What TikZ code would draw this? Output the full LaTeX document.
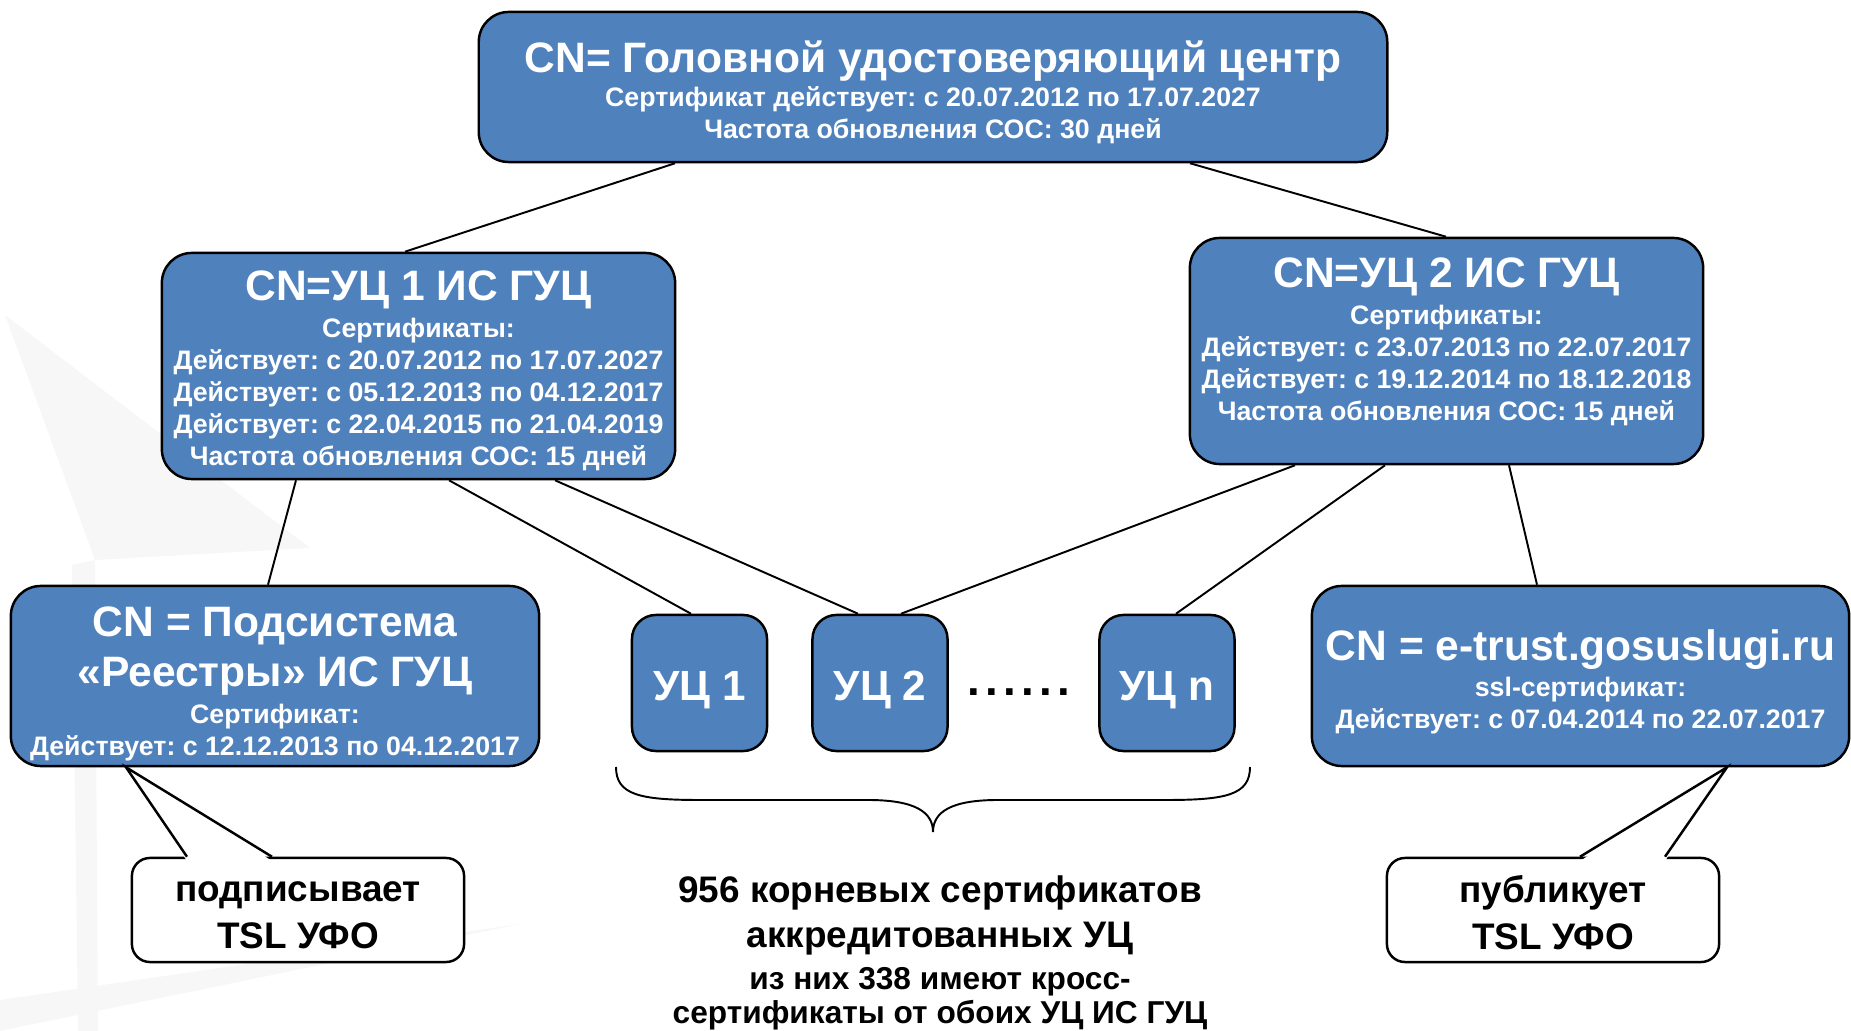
\documentclass[tikz,border=0pt]{standalone}
\usepackage{fontspec}
\setmainfont{Liberation Sans}
\frenchspacing
\usetikzlibrary{positioning,calc}
\definecolor{ucblue}{RGB}{79,129,189}
\definecolor{wmgray}{RGB}{247,247,247}
\tikzset{
  cabox/.style={draw=black,line width=0.7pt,fill=ucblue,rounded corners=0.3cm},
  catext/.style={text=white,align=center,inner sep=0pt,font=\fontsize{7.6}{9.1}\selectfont\bfseries},
  ucbox/.style={cabox,rounded corners=0.24cm,minimum width=1.35cm,minimum height=1.36cm,
    text=white,text height=9.7pt,text depth=0pt,font=\fontsize{12}{13}\selectfont\bfseries},
  notebox/.style={draw=black,line width=0.7pt,fill=white,rounded corners=0.18cm,
    minimum width=3.32cm,minimum height=1.04cm},
  notetext/.style={align=center,inner sep=0pt,font=\fontsize{10.5}{13.4}\selectfont\bfseries},
  link/.style={line width=0.55pt},
}
\newcommand{\cntitle}[1]{{\fontsize{12.1}{14}\selectfont #1}}

\begin{document}
\begin{tikzpicture}[x=0.01cm,y=-0.01cm]
\useasboundingbox (0,0) rectangle (1851,1031);

% faint logo in the background
\fill[wmgray] (5,315) -- (310,548) -- (95,560) -- cycle;
\fill[wmgray] (72,565) -- (95,560) -- (98,1031) -- (78,1031) -- cycle;
\fill[wmgray] (0,1000) -- (520,924) -- (0,1031) -- cycle;

% head centre
\node[cabox,minimum width=9.08cm,minimum height=1.5cm] (root) at (933,87) {};
\node[catext] (root-txt) at (933,92.5) {\cntitle{CN= Головной удостоверяющий центр}\\[0.7pt]
  Сертификат действует: с 20.07.2012 по 17.07.2027\\
  Частота обновления СОС: 30 дней};

% the two CAs of the head centre
\node[cabox,minimum width=5.13cm,minimum height=2.26cm] (ca1) at (418.5,366) {};
\node[catext] (ca1-txt) at (418.5,371) {\cntitle{CN=УЦ 1 ИС ГУЦ}\\[1.3pt]
  Сертификаты:\\
  Действует: с 20.07.2012 по 17.07.2027\\
  Действует: с 05.12.2013 по 04.12.2017\\
  Действует: с 22.04.2015 по 21.04.2019\\
  Частота обновления СОС: 15 дней};
\node[cabox,minimum width=5.13cm,minimum height=2.26cm] (ca2) at (1446.5,351) {};
\node[catext] (ca2-txt) at (1446.5,342) {\cntitle{CN=УЦ 2 ИС ГУЦ}\\[1.3pt]
  Сертификаты:\\
  Действует: с 23.07.2013 по 22.07.2017\\
  Действует: с 19.12.2014 по 18.12.2018\\
  Частота обновления СОС: 15 дней};

% lower row
\node[cabox,minimum width=5.28cm,minimum height=1.8cm] (reg) at (275,676) {};
\node[catext] (reg-txt) at (275,683.5) {\cntitle{CN = Подсистема}\\[2.5pt]
  \cntitle{«Реестры» ИС ГУЦ}\\[1.3pt]
  Сертификат:\\
  Действует: с 12.12.2013 по 04.12.2017};
\node[ucbox] (uc1) at (699.5,683) {УЦ 1};
\node[ucbox] (uc2) at (880,683) {УЦ 2};
\node[font=\fontsize{13}{13}\selectfont\bfseries] (dots) at (1019,692)
  {.\kern1.5pt.\kern1.5pt.\kern1.5pt.\kern1.5pt.\kern1.5pt.};
\node[ucbox] (ucn) at (1167,683) {УЦ n};
\node[cabox,minimum width=5.37cm,minimum height=1.8cm] (gos) at (1580.5,676) {};
\node[catext] (gos-txt) at (1580.5,682) {\cntitle{CN = e-trust.gosuslugi.ru}\\[1pt]
  ssl-сертификат:\\
  Действует: с 07.04.2014 по 22.07.2017};

% links
\draw[link] (675,0 |- root.south) -- (405,0 |- ca1.north);
\draw[link] (1190,0 |- root.south) -- (1446,0 |- ca2.north);
\draw[link] (296,0 |- ca1.south) -- (268,0 |- reg.north);
\draw[link] (449,0 |- ca1.south) -- (691,0 |- uc1.north);
\draw[link] (555,0 |- ca1.south) -- (858,0 |- uc2.north);
\draw[link] (1295,0 |- ca2.south) -- (901,0 |- uc2.north);
\draw[link] (1385,0 |- ca2.south) -- (1176,0 |- ucn.north);
\draw[link] (1509,0 |- ca2.south) -- (1537,0 |- gos.north);

% callouts
\node[notebox] (signnote) at (298,910) {};
\node[notetext] (signnote-txt) at (298,915) {подписывает\\TSL УФО};
\fill[white] (187,861) -- (126,767) -- (272,861) -- cycle;
\draw[line width=0.7pt] (187,0 |- signnote.north) -- (126,0 |- reg.south) -- (272,0 |- signnote.north);
\node[notebox] (pubnote) at (1553,910) {};
\node[notetext] (pubnote-txt) at (1553,913) {публикует\\TSL УФО};
\fill[white] (1580,861) -- (1727,767) -- (1665,861) -- cycle;
\draw[line width=0.7pt] (1580,0 |- pubnote.north) -- (1727,0 |- gos.south) -- (1665,0 |- pubnote.north);

% brace under the accredited CAs
\draw[link] (616,767) .. controls (616,795) and (640,800) .. (700,800) -- (868,800)
  .. controls (915,800) and (933,812) .. (933,832)
  .. controls (933,812) and (951,800) .. (998,800) -- (1166,800)
  .. controls (1226,800) and (1250,795) .. (1250,767);
\node[align=center,inner sep=0pt,font=\fontsize{9}{9.7}\selectfont\bfseries] (total) at (940,953)
  {{\fontsize{10.5}{12}\selectfont 956 корневых сертификатов}\\[3.1pt]
   {\fontsize{10.5}{12}\selectfont аккредитованных УЦ}\\[2.3pt]
   из них 338 имеют кросс-\\
   сертификаты от обоих УЦ ИС ГУЦ};
\end{tikzpicture}
\end{document}
